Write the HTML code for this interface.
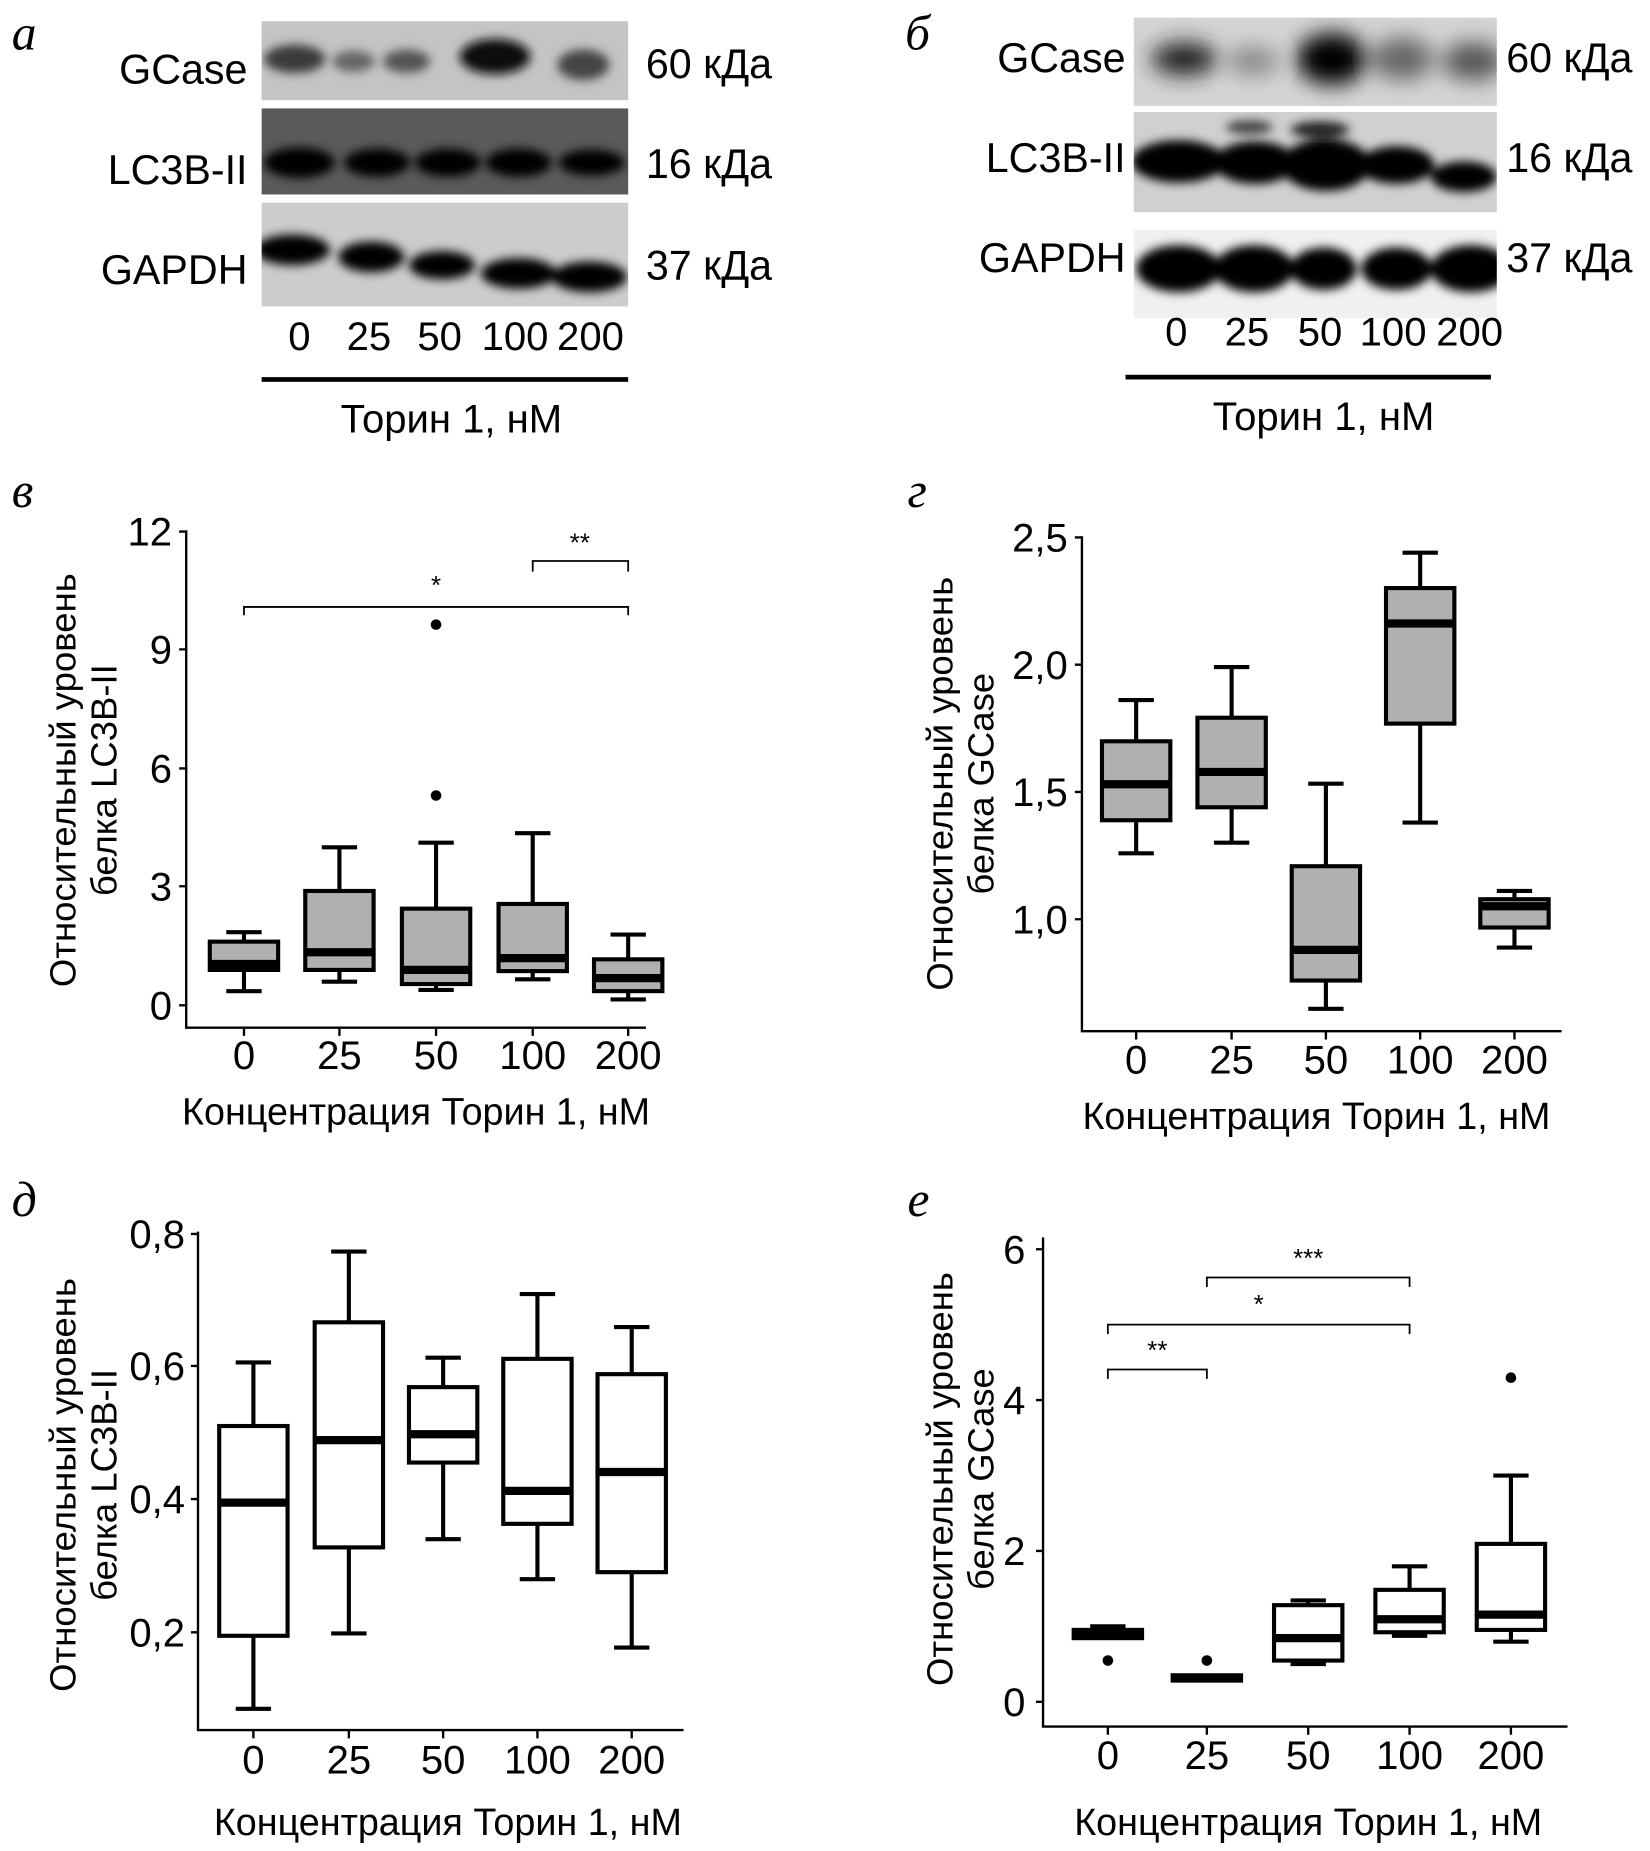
<!DOCTYPE html>
<html><head><meta charset="utf-8"><style>
html,body{margin:0;padding:0;background:#fff;}
svg{display:block;}
text{font-family:"Liberation Sans",sans-serif;fill:#000;}
.it{font-family:"Liberation Serif",serif;font-style:italic;}
</style></head><body>
<svg width="1650" height="1851" viewBox="0 0 1400 1570.6" preserveAspectRatio="none" xmlns="http://www.w3.org/2000/svg">
<defs>
<filter id="b4" x="-20%" y="-50%" width="140%" height="200%"><feGaussianBlur stdDeviation="4"/></filter>
<filter id="b8" x="-30%" y="-80%" width="160%" height="260%"><feGaussianBlur stdDeviation="9"/></filter>
<clipPath id="c1"><rect x="222" y="18" width="311" height="67"/></clipPath>
<clipPath id="c2"><rect x="222" y="92" width="311" height="73"/></clipPath>
<clipPath id="c3"><rect x="222" y="172" width="311" height="88"/></clipPath>
<clipPath id="d1"><rect x="962" y="15" width="308" height="75"/></clipPath>
<clipPath id="d2"><rect x="962" y="95" width="308" height="85"/></clipPath>
<clipPath id="d3"><rect x="962" y="195" width="308" height="75"/></clipPath>
</defs>
<rect width="1400" height="1571" fill="#fff"/>

<!-- Panel a -->
<text class="it" x="10" y="42" font-size="42">а</text>
<rect x="222" y="18" width="311" height="67" fill="#c4c4c4"/>
<g clip-path="url(#c1)" filter="url(#b4)">
<ellipse cx="250" cy="50" rx="26" ry="12" fill="#3a3a3a"/>
<ellipse cx="300" cy="52" rx="18" ry="9" fill="#666"/>
<ellipse cx="345" cy="52" rx="20" ry="10" fill="#555"/>
<ellipse cx="420" cy="48" rx="30" ry="15" fill="#111"/>
<ellipse cx="495" cy="55" rx="22" ry="13" fill="#444"/>
</g>
<rect x="222" y="92" width="311" height="73" fill="#5a5a5a"/>
<g clip-path="url(#c2)" filter="url(#b4)">
<ellipse cx="254" cy="138" rx="30" ry="13" fill="#000"/>
<ellipse cx="320" cy="138" rx="28" ry="12" fill="#000"/>
<ellipse cx="380" cy="138" rx="28" ry="12" fill="#000"/>
<ellipse cx="440" cy="138" rx="28" ry="12" fill="#000"/>
<ellipse cx="502" cy="138" rx="28" ry="11" fill="#000"/>
</g>
<rect x="222" y="172" width="311" height="88" fill="#cccccc"/>
<g clip-path="url(#c3)" filter="url(#b4)">
<ellipse cx="248" cy="212" rx="32" ry="13" fill="#000"/>
<ellipse cx="315" cy="218" rx="28" ry="13" fill="#000"/>
<ellipse cx="375" cy="225" rx="28" ry="12" fill="#000"/>
<ellipse cx="440" cy="232" rx="32" ry="13" fill="#000"/>
<ellipse cx="500" cy="235" rx="32" ry="13" fill="#000"/>
</g>
<g font-size="35" text-anchor="end">
<text x="210" y="71">GCase</text><text x="210" y="156">LC3B-II</text><text x="210" y="241">GAPDH</text>
</g>
<g font-size="35">
<text x="548" y="66">60 кДа</text><text x="548" y="151">16 кДа</text><text x="548" y="237">37 кДа</text>
</g>
<g font-size="34" text-anchor="middle">
<text x="254" y="297">0</text><text x="313" y="297">25</text><text x="373" y="297">50</text><text x="437" y="297">100</text><text x="501" y="297">200</text>
<text x="383" y="367">Торин 1, нМ</text>
</g>
<rect x="222" y="320" width="311" height="4" fill="#000"/>

<!-- Panel b -->
<text class="it" x="768" y="42" font-size="42">б</text>
<rect x="962" y="15" width="308" height="75" fill="#d4d4d4"/>
<g clip-path="url(#d1)" filter="url(#b8)">
<ellipse cx="1005" cy="50" rx="28" ry="14" fill="#222"/>
<ellipse cx="1063" cy="52" rx="22" ry="12" fill="#888"/>
<ellipse cx="1130" cy="50" rx="30" ry="22" fill="#000"/>
<ellipse cx="1190" cy="50" rx="26" ry="18" fill="#666"/>
<ellipse cx="1250" cy="52" rx="26" ry="16" fill="#555"/>
</g>
<rect x="962" y="95" width="308" height="85" fill="#d0d0d0"/>
<g clip-path="url(#d2)" filter="url(#b4)">
<ellipse cx="1000" cy="137" rx="40" ry="18" fill="#000"/>
<ellipse cx="1065" cy="138" rx="35" ry="18" fill="#000"/>
<ellipse cx="1125" cy="140" rx="38" ry="22" fill="#000"/>
<ellipse cx="1185" cy="140" rx="32" ry="16" fill="#000"/>
<ellipse cx="1242" cy="150" rx="28" ry="13" fill="#000"/>
<ellipse cx="1060" cy="108" rx="20" ry="6" fill="#444"/>
<ellipse cx="1120" cy="110" rx="25" ry="7" fill="#222"/>
</g>
<rect x="962" y="195" width="308" height="75" fill="#f0f0f0"/>
<g clip-path="url(#d3)" filter="url(#b4)">
<ellipse cx="1000" cy="228" rx="36" ry="20" fill="#000"/>
<ellipse cx="1064" cy="228" rx="34" ry="20" fill="#000"/>
<ellipse cx="1123" cy="228" rx="28" ry="18" fill="#000"/>
<ellipse cx="1185" cy="228" rx="30" ry="18" fill="#000"/>
<ellipse cx="1248" cy="228" rx="34" ry="20" fill="#000"/>
</g>
<g font-size="35" text-anchor="end">
<text x="955" y="61">GCase</text><text x="955" y="146">LC3B-II</text><text x="955" y="231">GAPDH</text>
</g>
<g font-size="35">
<text x="1278" y="61">60 кДа</text><text x="1278" y="146">16 кДа</text><text x="1278" y="231">37 кДа</text>
</g>
<g font-size="34" text-anchor="middle">
<text x="998" y="293">0</text><text x="1058" y="293">25</text><text x="1120" y="293">50</text><text x="1182" y="293">100</text><text x="1247" y="293">200</text>
<text x="1123" y="365">Торин 1, нМ</text>
</g>
<rect x="955" y="318" width="310" height="4" fill="#000"/>

<!-- Chart в -->
<text class="it" x="10" y="430" font-size="42">в</text>
<g stroke="#000" stroke-width="2" fill="none">
<path d="M158 450V872H548"/>
<path d="M152 451H158M152 551H158M152 652H158M152 752H158M152 853H158"/>
<path d="M207 872v7M288 872v7M370 872v7M452 872v7M533 872v7"/>
<path d="M207 522V515H533V522" stroke-width="1.5"/>
<path d="M452 485V476H533V485" stroke-width="1.5"/>
</g>
<g font-size="34" text-anchor="end">
<text x="146" y="463">12</text><text x="146" y="563">9</text><text x="146" y="664">6</text><text x="146" y="764">3</text><text x="146" y="865">0</text>
</g>
<g font-size="34" text-anchor="middle">
<text x="207" y="907">0</text><text x="288" y="907">25</text><text x="370" y="907">50</text><text x="452" y="907">100</text><text x="533" y="907">200</text>
<text x="353" y="954" font-size="32">Концентрация Торин 1, нМ</text>
<text x="370" y="504" font-size="22">*</text><text x="492" y="468" font-size="22">**</text>
</g>
<g transform="translate(64,662) rotate(-90)" font-size="31" text-anchor="middle"><text x="0" y="0">Относительный уровень</text><text x="0" y="35">белка LC3B-II</text></g>
<g stroke="#000" stroke-width="3.5" fill="#b0b0b0">
<path d="M207 841V791M192 841h30M192 791h30" fill="none"/><rect x="178" y="799" width="58" height="24"/><path d="M178 818h58" stroke-width="7"/>
<path d="M288 833V719M273 833h30M273 719h30" fill="none"/><rect x="259" y="756" width="58" height="67"/><path d="M259 808h58" stroke-width="7"/>
<path d="M370 840V715M355 840h30M355 715h30" fill="none"/><rect x="341" y="771" width="58" height="64"/><path d="M341 823h58" stroke-width="7"/>
<path d="M452 831V707M437 831h30M437 707h30" fill="none"/><rect x="423" y="767" width="58" height="57"/><path d="M423 813h58" stroke-width="7"/>
<path d="M533 848V793M518 848h30M518 793h30" fill="none"/><rect x="504" y="814" width="58" height="27"/><path d="M504 830h58" stroke-width="7"/>
</g>
<circle cx="370" cy="675" r="4.5"/><circle cx="370" cy="530" r="4.5"/>

<!-- Chart г -->
<text class="it" x="770" y="430" font-size="42">г</text>
<g stroke="#000" stroke-width="2" fill="none">
<path d="M918 455V875H1325"/>
<path d="M912 456H918M912 564H918M912 672H918M912 780H918"/>
<path d="M964 875v7M1045 875v7M1125 875v7M1205 875v7M1285 875v7"/>
</g>
<g font-size="34" text-anchor="end">
<text x="906" y="468">2,5</text><text x="906" y="576">2,0</text><text x="906" y="684">1,5</text><text x="906" y="792">1,0</text>
</g>
<g font-size="34" text-anchor="middle">
<text x="964" y="911">0</text><text x="1045" y="911">25</text><text x="1125" y="911">50</text><text x="1205" y="911">100</text><text x="1285" y="911">200</text>
<text x="1117" y="958" font-size="32">Концентрация Торин 1, нМ</text>
</g>
<g transform="translate(808,665) rotate(-90)" font-size="31" text-anchor="middle"><text x="0" y="0">Относительный уровень</text><text x="0" y="35">белка GCase</text></g>
<g stroke="#000" stroke-width="3.5" fill="#b0b0b0">
<path d="M964 724V594M949 724h30M949 594h30" fill="none"/><rect x="935" y="629" width="58" height="67"/><path d="M935 665.5h58" stroke-width="7"/>
<path d="M1045 715V566M1030 715h30M1030 566h30" fill="none"/><rect x="1016" y="609" width="58" height="76"/><path d="M1016 655h58" stroke-width="7"/>
<path d="M1125 856V665M1110 856h30M1110 665h30" fill="none"/><rect x="1096" y="735" width="58" height="97"/><path d="M1096 806h58" stroke-width="7"/>
<path d="M1205 698V469M1190 698h30M1190 469h30" fill="none"/><rect x="1176" y="499" width="58" height="115"/><path d="M1176 529h58" stroke-width="7"/>
<path d="M1285 804V756M1270 804h30M1270 756h30" fill="none"/><rect x="1256" y="763" width="58" height="24"/><path d="M1256 769h58" stroke-width="7"/>
</g>

<!-- Chart д -->
<text class="it" x="10" y="1032" font-size="42">д</text>
<g stroke="#000" stroke-width="2" fill="none">
<path d="M168 1045V1468H580"/>
<path d="M162 1047H168M162 1159H168M162 1272H168M162 1385H168"/>
<path d="M215 1468v7M296 1468v7M376 1468v7M456 1468v7M536 1468v7"/>
</g>
<g font-size="34" text-anchor="end">
<text x="157" y="1059">0,8</text><text x="157" y="1171">0,6</text><text x="157" y="1284">0,4</text><text x="157" y="1397">0,2</text>
</g>
<g font-size="34" text-anchor="middle">
<text x="215" y="1505">0</text><text x="296" y="1505">25</text><text x="376" y="1505">50</text><text x="456" y="1505">100</text><text x="536" y="1505">200</text>
<text x="380" y="1557" font-size="32">Концентрация Торин 1, нМ</text>
</g>
<g transform="translate(64,1260) rotate(-90)" font-size="31" text-anchor="middle"><text x="0" y="0">Относительный уровень</text><text x="0" y="35">белка LC3B-II</text></g>
<g stroke="#000" stroke-width="3.5" fill="#fff">
<path d="M215 1450V1156M200 1450h30M200 1156h30" fill="none"/><rect x="186" y="1210" width="58" height="178"/><path d="M186 1275h58" stroke-width="7"/>
<path d="M296 1386V1062M281 1386h30M281 1062h30" fill="none"/><rect x="267" y="1122" width="58" height="191"/><path d="M267 1222h58" stroke-width="7"/>
<path d="M376 1306V1152M361 1306h30M361 1152h30" fill="none"/><rect x="347" y="1177" width="58" height="64"/><path d="M347 1217h58" stroke-width="7"/>
<path d="M456 1340V1098M441 1340h30M441 1098h30" fill="none"/><rect x="427" y="1153" width="58" height="140"/><path d="M427 1265h58" stroke-width="7"/>
<path d="M536 1398V1126M521 1398h30M521 1126h30" fill="none"/><rect x="507" y="1166" width="58" height="168"/><path d="M507 1249h58" stroke-width="7"/>
</g>

<!-- Chart е -->
<text class="it" x="770" y="1032" font-size="42">е</text>
<g stroke="#000" stroke-width="2" fill="none">
<path d="M885 1050V1465H1330"/>
<path d="M879 1060H885M879 1188H885M879 1316H885M879 1444H885"/>
<path d="M940 1465v7M1024 1465v7M1110 1465v7M1196 1465v7M1282 1465v7"/>
<path d="M940 1170V1162H1024V1170" stroke-width="1.5"/>
<path d="M940 1132V1124H1196V1132" stroke-width="1.5"/>
<path d="M1024 1092V1084H1196V1092" stroke-width="1.5"/>
</g>
<g font-size="34" text-anchor="end">
<text x="870" y="1072">6</text><text x="870" y="1200">4</text><text x="870" y="1328">2</text><text x="870" y="1456">0</text>
</g>
<g font-size="34" text-anchor="middle">
<text x="940" y="1501">0</text><text x="1024" y="1501">25</text><text x="1110" y="1501">50</text><text x="1196" y="1501">100</text><text x="1282" y="1501">200</text>
<text x="1110" y="1557" font-size="32">Концентрация Торин 1, нМ</text>
<text x="982" y="1153" font-size="22">**</text><text x="1068" y="1114" font-size="22">*</text><text x="1110" y="1075" font-size="22">***</text>
</g>
<g transform="translate(808,1255) rotate(-90)" font-size="31" text-anchor="middle"><text x="0" y="0">Относительный уровень</text><text x="0" y="35">белка GCase</text></g>
<g stroke="#000" stroke-width="3.5" fill="#fff">
<path d="M940 1390V1380M925 1380h30" fill="none"/><rect x="911" y="1383" width="58" height="7"/><path d="M911 1386h58" stroke-width="6"/>
<rect x="995" y="1421.5" width="58" height="4.5"/><path d="M995 1424h58" stroke-width="5"/>
<path d="M1110 1412V1358M1095 1412h30M1095 1358h30" fill="none"/><rect x="1081" y="1362" width="58" height="47"/><path d="M1081 1390h58" stroke-width="7"/>
<path d="M1196 1388V1329M1181 1388h30M1181 1329h30" fill="none"/><rect x="1167" y="1349" width="58" height="36"/><path d="M1167 1374h58" stroke-width="7"/>
<path d="M1282 1393V1252M1267 1393h30M1267 1252h30" fill="none"/><rect x="1253" y="1310" width="58" height="73"/><path d="M1253 1370h58" stroke-width="7"/>
</g>
<circle cx="940" cy="1409" r="4.5"/><circle cx="1024" cy="1409" r="4.5"/><circle cx="1282" cy="1169" r="4.5"/>
</svg>
</body></html>
